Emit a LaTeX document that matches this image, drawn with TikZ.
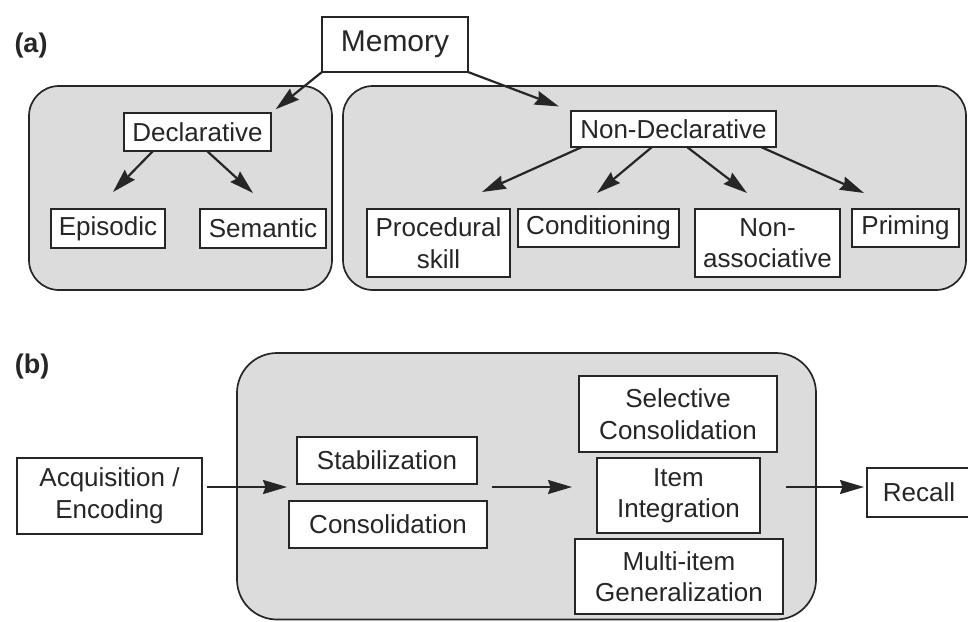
\documentclass[tikz,border=0pt]{standalone}
\usepackage{fontspec}
\setmainfont{Liberation Sans}
\usetikzlibrary{arrows.meta}
\definecolor{linec}{HTML}{262626}
\definecolor{grpfill}{HTML}{DCDCDC}
\begin{document}
\begin{tikzpicture}[x=1pt,y=1pt,
  every node/.style={font=\fontsize{26}{31.5}\selectfont, text=linec},
  blk/.style={draw=linec, fill=white, line width=1.8pt, inner sep=0pt, outer sep=0pt, align=center},
  grp/.style={draw=linec, fill=grpfill, line width=1.7pt, rounded corners=30pt},
  arr/.style={draw=linec, line width=2.2pt, -{Stealth[length=24pt,width=14pt,inset=2.5pt]}},
  tag/.style={font=\fontsize{27}{31}\selectfont\bfseries}]
\fill[white] (0,0) rectangle (968,-621);
\useasboundingbox (0,0) rectangle (968,-621);

% ---------- (a) memory taxonomy ----------
\node[tag] (taga) at (31,-46) {(a)};
\draw[grp] (29,-86) rectangle (332,-290);
\draw[grp] (343,-86) rectangle (966,-290);

\node[blk, minimum width=146pt, minimum height=55pt, font=\fontsize{30}{34}\selectfont] (mem) at (395,-44.5) {Memory};
\node[blk, minimum width=147pt, minimum height=38pt] (decl) at (197.5,-132) {Declarative};
\node[blk, minimum width=114pt, minimum height=39pt] (epis) at (108,-228.5) {Episodic};
\node[blk, minimum width=126pt, minimum height=39pt] (sem) at (263,-228.5) {Semantic};
\node[blk, minimum width=205pt, minimum height=36pt] (ndecl) at (673.5,-129) {Non-Declarative};
\node[blk, minimum width=143pt, minimum height=68pt] (proc) at (438.5,-243) {Procedural\\skill};
\node[blk, minimum width=161pt, minimum height=38pt] (cond) at (598.5,-228) {Conditioning};
\node[blk, minimum width=145pt, minimum height=68pt] (nass) at (767.5,-243) {Non-\\associative};
\node[blk, minimum width=107pt, minimum height=38pt] (prim) at (905.5,-228) {Priming};

\draw[arr, shorten >=6pt] (mem.south west) -- (decl.north east);
\draw[arr, shorten >=13pt] (mem.south east) -- (ndecl.north west);
\draw[arr] ([xshift=-44.5pt]decl.south) -- ([xshift=5pt,yshift=17pt]epis.north);
\draw[arr] ([xshift=9.5pt]decl.south) -- ([xshift=-10pt,yshift=16pt]sem.north);
\draw[arr] ([xshift=-91.5pt]ndecl.south) -- ([xshift=43.5pt,yshift=17pt]proc.north);
\draw[arr] ([xshift=-21.5pt]ndecl.south) -- ([xshift=-1.5pt,yshift=16pt]cond.north);
\draw[arr] ([xshift=13.5pt]ndecl.south) -- ([xshift=-20.5pt,yshift=16pt]nass.north);
\draw[arr] ([xshift=87.5pt]ndecl.south) -- ([xshift=-41.5pt,yshift=16pt]prim.north);

% ---------- (b) memory processing stages ----------
\node[tag] (tagb) at (32,-367) {(b)};
\draw[grp, rounded corners=40pt] (237,-353) rectangle (816,-619.5);

\node[blk, minimum width=185pt, minimum height=76pt] (acq) at (109.5,-496) {Acquisition /\\Encoding};
\node[blk, minimum width=180pt, minimum height=47pt] (stab) at (387,-460.5) {Stabilization};
\node[blk, minimum width=198pt, minimum height=47pt] (cons) at (388,-524.5) {Consolidation};
\node[blk, minimum width=198pt, minimum height=76pt] (selc) at (678,-414) {Selective\\Consolidation};
\node[blk, minimum width=163pt, minimum height=75pt] (item) at (678.5,-495.5) {Item\\Integration};
\node[blk, minimum width=208pt, minimum height=75pt] (multi) at (679,-576.5) {Multi-item\\Generalization};
\node[blk, minimum width=104pt, minimum height=49pt] (recall) at (919,-492.5) {Recall};

\draw[arr] ([xshift=5pt,yshift=9pt]acq.east) -- ([xshift=-10pt,yshift=-3pt]stab.south west);
\draw[arr] ([xshift=15pt,yshift=-3pt]stab.south east) -- ([xshift=-25pt,yshift=8.5pt]item.west);
\draw[arr] ([xshift=26pt,yshift=8.5pt]item.east) -- ([xshift=-3pt,yshift=5.5pt]recall.west);
\end{tikzpicture}
\end{document}
